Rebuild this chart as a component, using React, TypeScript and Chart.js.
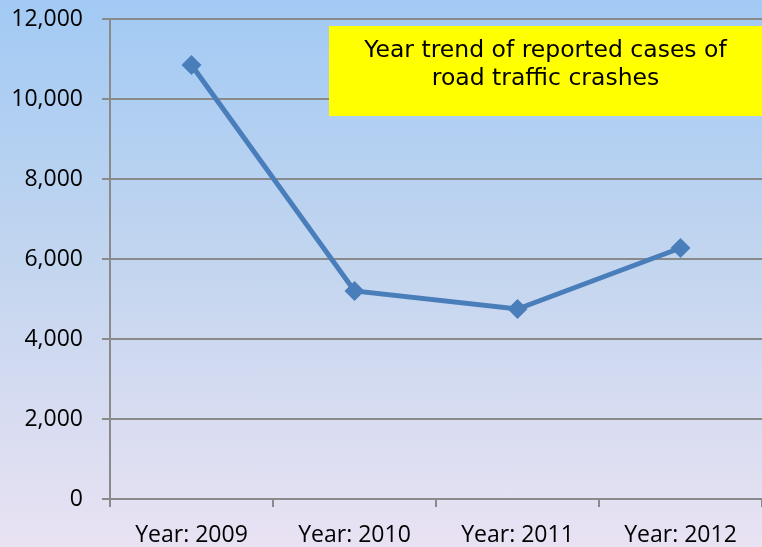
import React, { useEffect, useRef } from "react";
import { Chart, registerables } from "chart.js";

Chart.register(...registerables);

const categories = ["Year: 2009", "Year: 2010", "Year: 2011", "Year: 2012"];
const crashes = [10850, 5200, 4750, 6275];
const yTicks = [0, 2000, 4000, 6000, 8000, 10000, 12000];
const titleLines = ["Year trend of reported cases of", "road traffic crashes"];

const titleBox = {
  id: "titleBox",
  afterDraw(chart: any) {
    const ctx = chart.ctx;
    const x0 = 329;
    const y0 = 26;
    const w = chart.width - x0;
    const h = 90;
    ctx.save();
    ctx.fillStyle = "#ffff00";
    ctx.fillRect(x0, y0, w, h);
    ctx.fillStyle = "#000000";
    ctx.font = '23.5px "Comic Sans MS", "DejaVu Sans", sans-serif';
    ctx.textAlign = "center";
    ctx.textBaseline = "middle";
    const cx = x0 + w / 2;
    ctx.fillText(titleLines[0], cx, 51);
    ctx.fillText(titleLines[1], cx, 79);
    ctx.restore();
  },
};

export default function App() {
  const ref = useRef<HTMLCanvasElement>(null);
  useEffect(() => {
    document.body.style.margin = "0";
    const chart = new Chart(ref.current!, {
      type: "line",
      data: {
        labels: categories,
        datasets: [
          {
            data: crashes,
            borderColor: "#4a7ebb",
            backgroundColor: "#4a7ebb",
            borderWidth: 5,
            pointStyle: "rectRot",
            pointRadius: 10,
            pointHoverRadius: 10,
            pointBackgroundColor: "#4a7ebb",
            pointBorderColor: "#4a7ebb",
            pointBorderWidth: 0,
            tension: 0,
          },
        ],
      },
      options: {
        animation: false,
        responsive: true,
        maintainAspectRatio: false,
        layout: { autoPadding: false, padding: { top: 19, right: -2, left: 0, bottom: 0 } },
        plugins: { legend: { display: false }, tooltip: { enabled: false }, title: { display: false } },
        scales: {
          x: {
            offset: true,
            border: { display: true, color: "#8a8a8a", width: 2 },
            grid: {
              offset: true,
              drawOnChartArea: false,
              drawTicks: true,
              tickLength: 8,
              color: "#8a8a8a",
              lineWidth: 2,
            },
            ticks: {
              color: "#000000",
              font: { family: '"Open Sans", sans-serif', size: 23 },
              padding: 15,
              maxRotation: 0,
            },
            afterFit(scale: any) {
              scale.height = 48;
              scale.paddingLeft = 0;
              scale.paddingRight = 0;
            },
          },
          y: {
            min: 0,
            max: 12000,
            border: { display: true, color: "#8a8a8a", width: 2 },
            grid: {
              color: "#8a8a8a",
              lineWidth: 2,
              drawTicks: true,
              tickLength: 8,
            },
            afterBuildTicks(scale: any) {
              scale.ticks = yTicks.map((v) => ({ value: v }));
            },
            ticks: {
              color: "#000000",
              font: { family: '"Open Sans", sans-serif', size: 23 },
              padding: 19,
              callback: (v: any) => Number(v).toLocaleString("en-US"),
            },
            afterFit(scale: any) {
              scale.width = 110;
              scale.paddingTop = 0;
              scale.paddingBottom = 0;
            },
          },
        },
      },
      plugins: [titleBox],
    });
    return () => chart.destroy();
  }, []);
  return (
    <div
      style={{
        width: 762,
        height: 547,
        background: "linear-gradient(to bottom, #a2caf4 0%, #c4d6ef 50%, #e9e2f3 100%)",
      }}
    >
      <canvas ref={ref} />
    </div>
  );
}
